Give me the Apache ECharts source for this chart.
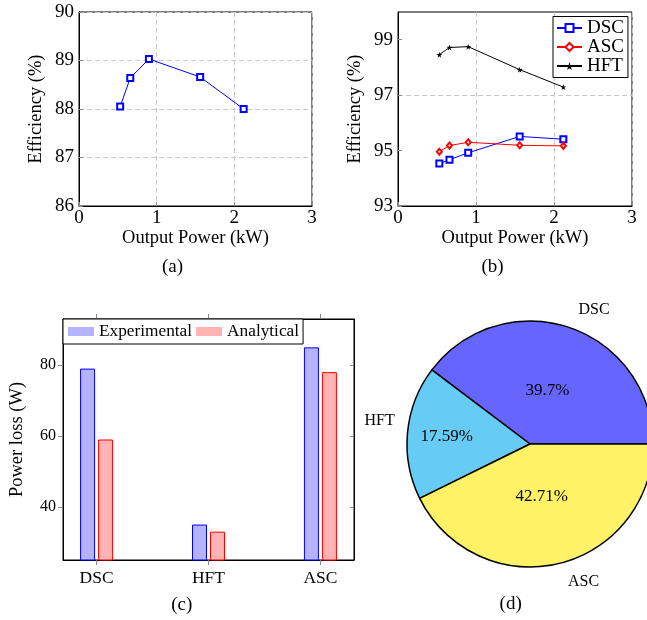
<!DOCTYPE html>
<html>
<head>
<meta charset="utf-8">
<script src="https://cdn.jsdelivr.net/npm/echarts@6/dist/echarts.min.js"></script>
<style>
html,body{margin:0;padding:0;background:#fff;}
#main{width:647px;height:620px;}
</style>
</head>
<body>
<div id="main"></div>
<script>
// ---- data ----
const xPower = [0.53, 0.66, 0.9, 1.56, 2.12];
const effA = [88.05, 88.64, 89.03, 88.66, 88.0];
const effDSC = [94.53, 94.67, 94.92, 95.51, 95.41];
const effASC = [94.96, 95.18, 95.30, 95.19, 95.17];
const effHFT = [98.46, 98.72, 98.75, 97.92, 97.29];
const lossCats = ['DSC', 'HFT', 'ASC'];
const lossExp = [79, 35, 85];
const lossAna = [59, 33, 78];
const pieNames = ['DSC', 'HFT', 'ASC'];
const pieShares = [39.7, 17.59, 42.71];
const effBTicks = [93, 95, 97, 99];
const lossTicks = [40, 60, 80];
const captions = ['(a)', '(b)', '(c)', '(d)'];

// ---- styles ----
const FONT = 'Liberation Serif';
const pieColors = ['#6666ff', '#66ccf5', '#fff266'];
const innerOffsets = [[-3, 8], [-19, -1.5], [-3, -10.6]];
const outerOffsets = [[17, 6], [-3, -9], [20, -6]];

const pairs = (xs, ys) => xs.map((x, i) => [x, ys[i]]);
const gridLine = {show: true, lineStyle: {color: '#c8c8c8', type: [5, 3], width: 1}};
const tickLbl = {color: '#000', fontFamily: FONT, fontSize: 19};
const nameStyle = {color: '#000', fontFamily: FONT, fontSize: 18.5};
const axLine = {show: true, onZero: false, lineStyle: {color: '#000', width: 1}};
const star = 'path://M50,0 L61,35 L98,35 L68,57 L79,91 L50,70 L21,91 L32,57 L2,35 L39,35 Z';
const catIdx = lossCats.map((c, i) => i);

const chart = echarts.init(document.getElementById('main'), null, {renderer: 'canvas'});

const option = {
  animation: false,
  backgroundColor: '#fff',
  grid: [
    {left: 79, top: 12, width: 233, height: 194, show: true, borderColor: '#000', borderWidth: 1},
    {left: 398, top: 12, width: 234, height: 194, show: true, borderColor: '#000', borderWidth: 1},
    {left: 63, top: 319, width: 291, height: 241, show: true, borderColor: '#000', borderWidth: 1}
  ],
  xAxis: [
    {gridIndex: 0, type: 'value', min: 0, max: 3, interval: 1, axisLine: axLine,
     axisTick: {show: true, inside: true, length: 4, lineStyle: {color: '#888'}},
     axisLabel: Object.assign({margin: 3}, tickLbl), splitLine: gridLine,
     name: 'Output Power (kW)', nameLocation: 'middle', nameGap: 21, nameTextStyle: nameStyle},
    {gridIndex: 1, type: 'value', min: 0, max: 3, interval: 1, axisLine: axLine,
     axisTick: {show: true, inside: true, length: 4, lineStyle: {color: '#888'}},
     axisLabel: Object.assign({margin: 3}, tickLbl), splitLine: gridLine,
     name: 'Output Power (kW)', nameLocation: 'middle', nameGap: 21, nameTextStyle: nameStyle},
    {gridIndex: 2, type: 'value', min: -0.3, max: 2.3, axisLine: axLine,
     axisTick: {show: true, inside: false, length: 5, customValues: catIdx, lineStyle: {color: '#888'}},
     axisLabel: Object.assign({}, tickLbl, {margin: 9.5, fontSize: 17.5, customValues: catIdx, formatter: v => lossCats[Math.round(v)] || ''}),
     splitLine: {show: false}},
    {gridIndex: 2, type: 'value', position: 'top', min: -0.3, max: 2.3, axisLine: axLine,
     axisTick: {show: true, inside: false, length: 5, customValues: catIdx, lineStyle: {color: '#888'}},
     axisLabel: {show: false}, splitLine: {show: false}}
  ],
  yAxis: [
    {gridIndex: 0, type: 'value', min: 86, max: 90, interval: 1, axisLine: axLine,
     axisTick: {show: true, inside: true, length: 4, lineStyle: {color: '#888'}},
     axisLabel: Object.assign({margin: 5}, tickLbl), splitLine: gridLine,
     name: 'Efficiency (%)', nameLocation: 'middle', nameGap: 33, nameTextStyle: nameStyle},
    {gridIndex: 1, type: 'value', min: 93, max: 100, interval: 1, axisLine: axLine,
     axisTick: {show: true, inside: true, length: 4, customValues: effBTicks, lineStyle: {color: '#888'}},
     axisLabel: Object.assign({margin: 5, customValues: effBTicks}, tickLbl),
     splitLine: {show: true, lineStyle: {color: ['#c8c8c8', 'rgba(0,0,0,0)'], type: [5, 3], width: 1}},
     name: 'Efficiency (%)', nameLocation: 'middle', nameGap: 33, nameTextStyle: nameStyle},
    {gridIndex: 2, type: 'value', min: 25, max: 93, axisLine: axLine,
     axisTick: {show: true, inside: false, length: 5, customValues: lossTicks, lineStyle: {color: '#888'}},
     axisLabel: Object.assign({}, tickLbl, {margin: 7, fontSize: 16, customValues: lossTicks}),
     splitLine: {show: false},
     name: 'Power loss (W)', nameLocation: 'middle', nameGap: 36, nameTextStyle: nameStyle},
    {gridIndex: 2, type: 'value', position: 'right', min: 25, max: 93, axisLine: axLine,
     axisTick: {show: true, inside: true, length: 4, customValues: lossTicks, lineStyle: {color: '#888'}},
     axisLabel: {show: false}, splitLine: {show: false}}
  ],
  legend: [
    {data: ['DSC', 'ASC', 'HFT'], orient: 'vertical', left: 553, top: 16.5,
     padding: [2, 4, 2, 3], itemGap: 0, itemWidth: 25, itemHeight: 10,
     borderColor: '#000', borderWidth: 1, borderRadius: 0, backgroundColor: '#fff',
     textStyle: {color: '#000', fontFamily: FONT, fontSize: 19}},
    {data: [{name: 'Experimental', icon: 'rect'}, {name: 'Analytical', icon: 'rect'}],
     left: 63, top: 319, padding: [4, 4, 4, 5], itemGap: 4, itemWidth: 26, itemHeight: 9,
     itemStyle: {borderWidth: 0},
     borderColor: '#000', borderWidth: 1, borderRadius: 0, backgroundColor: '#fff',
     textStyle: {color: '#000', fontFamily: FONT, fontSize: 17.3}}
  ],
  series: [
    {type: 'line', xAxisIndex: 0, yAxisIndex: 0, data: pairs(xPower, effA),
     symbol: 'emptyRect', symbolSize: 6, color: '#0000ff',
     lineStyle: {width: 1, color: '#0000ff'}, itemStyle: {borderWidth: 1}},
    {name: 'DSC', type: 'line', xAxisIndex: 1, yAxisIndex: 1, data: pairs(xPower, effDSC),
     symbol: 'emptyRect', symbolSize: 6, color: '#0000ff',
     lineStyle: {width: 1, color: '#0000ff'}, itemStyle: {borderWidth: 1}},
    {name: 'ASC', type: 'line', xAxisIndex: 1, yAxisIndex: 1, data: pairs(xPower, effASC),
     symbol: 'emptyDiamond', symbolSize: [5, 6], color: '#ff0000',
     lineStyle: {width: 1, color: '#ff0000'}, itemStyle: {borderWidth: 1}},
    {name: 'HFT', type: 'line', xAxisIndex: 1, yAxisIndex: 1, data: pairs(xPower, effHFT),
     symbol: star, symbolSize: 6, color: '#000',
     lineStyle: {width: 1, color: '#000'}, itemStyle: {color: '#000'}},
    {name: 'Experimental', type: 'bar', xAxisIndex: 2, yAxisIndex: 2,
     data: lossExp.map((v, i) => [i, v]), barWidth: 15, barGap: '20%',
     itemStyle: {color: '#b3b3ff', borderColor: '#0000ff', borderWidth: 1}},
    {name: 'Analytical', type: 'bar', xAxisIndex: 2, yAxisIndex: 2,
     data: lossAna.map((v, i) => [i, v]), barWidth: 15, barGap: '20%',
     itemStyle: {color: '#ffb3b3', borderColor: '#ff0000', borderWidth: 1}},
    {type: 'pie', center: [530, 444], radius: 123, startAngle: 0, clockwise: false,
     silent: true,
     data: pieNames.map((n, i) => ({name: n, value: pieShares[i],
       itemStyle: {color: pieColors[i]}, label: {offset: innerOffsets[i]}})),
     itemStyle: {borderColor: '#000', borderWidth: 1.5},
     label: {show: true, position: 'inside', formatter: p => p.value + '%',
       color: '#000', fontFamily: FONT, fontSize: 17},
     labelLine: {show: false}},
    {type: 'pie', center: [530, 444], radius: 290, startAngle: 0, clockwise: false,
     silent: true, z: 1,
     data: pieNames.map((n, i) => ({name: n, value: pieShares[i], label: {offset: outerOffsets[i]}})),
     itemStyle: {color: 'rgba(0,0,0,0)', borderWidth: 0},
     label: {show: true, position: 'inside', formatter: p => p.name,
       color: '#000', fontFamily: FONT, fontSize: 16},
     labelLine: {show: false}}
  ],
  graphic: [
    {type: 'text', x: 172.5, y: 267, style: {text: captions[0], textAlign: 'center', textVerticalAlign: 'middle', font: '19px "Liberation Serif"', fill: '#000'}},
    {type: 'text', x: 492.5, y: 267, style: {text: captions[1], textAlign: 'center', textVerticalAlign: 'middle', font: '19px "Liberation Serif"', fill: '#000'}},
    {type: 'text', x: 181.7, y: 605, style: {text: captions[2], textAlign: 'center', textVerticalAlign: 'middle', font: '19px "Liberation Serif"', fill: '#000'}},
    {type: 'text', x: 510.7, y: 604, style: {text: captions[3], textAlign: 'center', textVerticalAlign: 'middle', font: '19px "Liberation Serif"', fill: '#000'}}
  ]
};
chart.setOption(option);
</script>
</body>
</html>
